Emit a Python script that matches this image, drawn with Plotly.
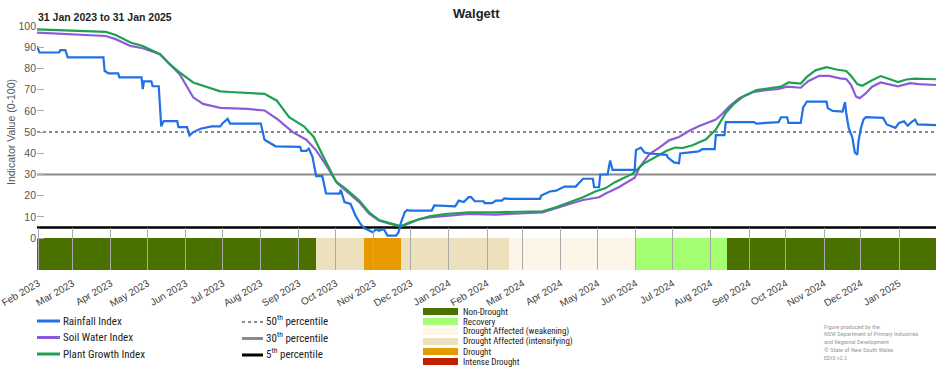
import plotly.graph_objects as go
import pandas as pd

# ---------------- data ----------------
rain_dates = ["2023-01-31","2023-02-02","2023-02-18","2023-02-19","2023-02-23","2023-02-25","2023-03-26","2023-03-27",
    "2023-03-30","2023-04-07","2023-04-08","2023-04-26","2023-04-27","2023-04-28","2023-05-04","2023-05-05","2023-05-10",
    "2023-05-12","2023-05-14","2023-05-25","2023-05-26","2023-06-02","2023-06-04","2023-06-07","2023-06-13","2023-06-22",
    "2023-06-29","2023-07-01","2023-07-05","2023-07-07","2023-08-01","2023-08-04","2023-08-13","2023-09-02","2023-09-03",
    "2023-09-07","2023-09-09","2023-09-12","2023-09-15","2023-09-20","2023-09-23","2023-10-04","2023-10-05","2023-10-08",
    "2023-10-13","2023-10-17","2023-10-21","2023-10-24","2023-10-31","2023-11-03","2023-11-05","2023-11-09","2023-11-12",
    "2023-11-19","2023-11-21","2023-11-23","2023-11-26","2023-11-28","2023-11-30","2023-12-18","2023-12-20","2024-01-06",
    "2024-01-09","2024-01-13","2024-01-17","2024-01-19","2024-01-22","2024-01-29","2024-01-30","2024-02-05","2024-02-08",
    "2024-02-13","2024-02-15","2024-02-19","2024-03-15","2024-03-16","2024-03-23","2024-03-28","2024-04-04","2024-04-13",
    "2024-04-19","2024-04-27","2024-04-28","2024-05-02","2024-05-03","2024-05-09","2024-05-11","2024-05-13","2024-05-31",
    "2024-06-01","2024-06-05","2024-06-08","2024-06-12","2024-06-26","2024-06-27","2024-07-02","2024-07-06","2024-07-07",
    "2024-07-22","2024-07-25","2024-08-04","2024-08-05","2024-08-12","2024-08-13","2024-09-05","2024-09-07","2024-09-25",
    "2024-09-27","2024-10-02","2024-10-03","2024-10-13","2024-10-15","2024-10-18","2024-11-03","2024-11-04","2024-11-08",
    "2024-11-16","2024-11-18","2024-11-19","2024-11-21","2024-11-24","2024-11-26","2024-11-28","2024-11-29","2024-12-01",
    "2024-12-03","2024-12-05","2024-12-19","2024-12-22","2024-12-25","2024-12-29","2024-12-31","2025-01-01","2025-01-05",
    "2025-01-08","2025-01-11","2025-01-14","2025-01-16","2025-01-31"]
rain_values = [90.5,87.5,87.5,88.6,88.6,85.2,85.2,78.9,
    77.7,77.7,75.8,75.8,70.3,73.9,73.9,71.6,71.6,
    52.7,55.2,55.2,52.3,52.3,48.4,50.0,51.6,52.7,
    52.7,54.2,56.3,54.0,54.0,46.4,43.3,43.0,41.1,
    41.1,42.2,38.3,29.2,29.2,21.1,21.0,22.8,17.0,
    16.1,10.6,6.7,4.8,2.8,4.3,3.5,4.3,1.2,
    1.2,2.8,7.5,12.2,13.3,13.0,13.0,15.4,15.0,
    17.7,17.0,19.3,19.3,17.4,17.4,16.5,16.5,17.7,
    17.7,18.8,18.5,18.5,20.1,22.0,22.4,24.3,24.3,
    28.0,28.0,24.0,24.0,30.0,30.0,36.6,32.2,32.2,
    41.5,42.7,40.4,39.9,39.3,38.0,35.7,35.3,39.9,
    40.9,42.0,42.0,48.6,48.6,54.7,54.7,54.0,54.7,
    57.0,57.0,54.3,54.3,61.6,64.4,64.4,61.3,60.0,
    59.7,64.1,59.0,52.0,47.4,40.4,39.3,45.8,52.0,
    55.9,57.0,56.7,53.6,52.8,52.0,53.6,54.3,55.1,
    53.0,54.7,55.9,53.6,53.3]

soil_dates = ["2023-01-31","2023-03-28","2023-04-05","2023-04-17","2023-04-27","2023-05-11","2023-05-19","2023-05-27",
    "2023-06-07","2023-06-15","2023-06-29","2023-07-21","2023-08-04","2023-08-14","2023-08-27","2023-09-07","2023-09-15",
    "2023-09-24","2023-10-02","2023-10-09","2023-10-20","2023-10-28","2023-11-05","2023-11-13","2023-11-19","2023-11-23",
    "2023-11-30","2023-12-08","2023-12-16","2024-01-17","2024-02-08","2024-03-17","2024-04-08","2024-04-19","2024-05-02",
    "2024-05-07","2024-05-18","2024-05-31","2024-06-04","2024-06-12","2024-06-20","2024-06-28","2024-07-06","2024-07-14",
    "2024-07-22","2024-07-31","2024-08-05","2024-08-10","2024-08-16","2024-08-24","2024-09-04","2024-09-15","2024-09-25",
    "2024-10-02","2024-10-13","2024-10-19","2024-10-28","2024-11-05","2024-11-14","2024-11-19","2024-11-23","2024-11-27",
    "2024-11-30","2024-12-05","2024-12-10","2024-12-17","2024-12-24","2024-12-31","2025-01-10","2025-01-17","2025-01-31"]
soil_values = [96.9,95.3,93.8,90.6,89.5,86.7,82.0,77.3,
    66.4,63.3,61.4,60.9,60.2,56.3,50.0,46.4,41.4,
    33.6,26.0,22.5,17.0,11.5,8.3,7.0,6.2,5.6,
    7.0,9.0,9.8,11.4,11.1,12.2,16.1,18.0,19.3,
    20.9,24.0,28.5,33.4,39.6,42.7,46.1,47.7,50.5,
    52.8,54.8,55.9,58.5,62.1,66.0,68.8,69.8,70.3,
    71.4,70.9,74.0,76.5,76.5,75.3,75.0,72.2,66.7,
    66.0,68.3,71.4,73.4,72.5,71.6,73.1,72.6,72.2]

plant_dates = ["2023-01-31","2023-02-22","2023-03-28","2023-04-05","2023-04-17","2023-04-27","2023-05-11","2023-05-19",
    "2023-05-27","2023-06-07","2023-06-15","2023-06-29","2023-07-07","2023-08-04","2023-08-14","2023-08-24","2023-09-05",
    "2023-09-13","2023-09-21","2023-09-27","2023-10-01","2023-10-09","2023-10-20","2023-10-28","2023-11-05","2023-11-13",
    "2023-11-19","2023-11-23","2023-11-30","2023-12-08","2023-12-16","2023-12-29","2024-01-17","2024-02-08","2024-02-24",
    "2024-03-17","2024-03-28","2024-04-08","2024-04-19","2024-04-29","2024-05-07","2024-05-15","2024-05-29","2024-06-07",
    "2024-06-18","2024-06-26","2024-07-03","2024-07-09","2024-07-17","2024-07-28","2024-08-05","2024-08-13","2024-08-19",
    "2024-08-27","2024-09-07","2024-09-20","2024-09-27","2024-10-03","2024-10-13","2024-10-18","2024-10-25","2024-11-03",
    "2024-11-11","2024-11-19","2024-11-23","2024-11-28","2024-12-02","2024-12-10","2024-12-17","2024-12-24","2024-12-31",
    "2025-01-07","2025-01-14","2025-01-31"]
plant_values = [98.4,98.0,97.2,95.8,92.2,90.6,86.7,82.0,
    78.1,73.4,71.9,69.2,68.9,68.0,64.8,57.0,52.7,
    47.7,38.3,31.0,26.8,23.2,17.7,12.2,8.6,7.2,
    6.2,5.6,7.5,9.0,10.3,11.4,12.2,12.2,12.5,
    12.7,14.6,17.0,19.3,22.0,23.5,26.4,30.3,35.0,
    38.8,41.2,42.7,42.5,43.8,46.6,51.2,59.0,62.9,
    66.7,69.8,70.9,71.4,73.4,72.9,76.0,79.1,80.6,
    79.5,78.8,76.4,72.6,71.8,74.4,76.4,75.0,73.6,
    74.8,75.2,74.9]

percentile_levels = [50, 30, 5]
percentile_names = ["50th percentile", "30th percentile", "5th percentile"]

drought_starts = ["2023-01-31", "2023-09-15", "2023-10-24", "2023-11-23", "2024-02-19", "2024-06-01", "2024-08-14"]
drought_ends = ["2023-09-15", "2023-10-24", "2023-11-23", "2024-02-19", "2024-06-01", "2024-08-14", "2025-01-31"]
drought_cats = ["Non-Drought", "Drought Affected (intensifying)", "Drought", "Drought Affected (intensifying)",
                "Drought Affected (weakening)", "Recovery", "Non-Drought"]

category_names = ["Non-Drought", "Recovery", "Drought Affected (weakening)",
                  "Drought Affected (intensifying)", "Drought", "Intense Drought"]
category_colors = ["#4a7000", "#a6ff73", "#fdf5e8", "#ede0bd", "#e69a00", "#bf2100"]

date_start, date_end = "2023-01-31", "2025-01-31"

# ---------------- styles ----------------
C_RAIN, C_SOIL, C_PLANT = "#2070e6", "#8c5cd8", "#1fa050"
FONT = "Liberation Sans, Arial, sans-serif"
NARROW = "Roboto Condensed, Liberation Sans, sans-serif"

L, R, T, B, W, H = 37, 16, 26, 100, 952, 370
PW, PH = W - L - R, H - T - B
def px(x):
    return (x - L) / PW
def py(y):
    return (H - B - y) / PH

fig = go.Figure()

# drought bar (drawn from category spans)
cmap = dict(zip(category_names, category_colors))
starts = pd.to_datetime(drought_starts)
ends = pd.to_datetime(drought_ends)
widths = [(e - s).total_seconds() * 1000 for s, e in zip(starts, ends)]
fig.add_trace(go.Bar(x=drought_starts, y=[15] * len(drought_starts), base=-15, width=widths, offset=0,
                     marker=dict(color=[cmap[c] for c in drought_cats], line=dict(width=0)),
                     showlegend=False, hoverinfo="skip"))

# percentile lines
pct_styles = [dict(color="#8a8a8a", width=2, dash="dot"), dict(color="#8a8a8a", width=2), dict(color="#000000", width=2.5)]
for lvl, nm, st in zip(percentile_levels, percentile_names, pct_styles):
    fig.add_trace(go.Scatter(x=[date_start, date_end], y=[lvl, lvl], mode="lines", line=st, name=nm,
                             showlegend=False, hoverinfo="skip"))

fig.add_trace(go.Scatter(x=soil_dates, y=soil_values, mode="lines", name="Soil Water Index",
                         line=dict(color=C_SOIL, width=2.2), showlegend=False))
fig.add_trace(go.Scatter(x=plant_dates, y=plant_values, mode="lines", name="Plant Growth Index",
                         line=dict(color=C_PLANT, width=2.2), showlegend=False))
fig.add_trace(go.Scatter(x=rain_dates, y=rain_values, mode="lines", name="Rainfall Index",
                         line=dict(color=C_RAIN, width=2.2), showlegend=False))

shapes = []
annotations = []

# titles
annotations.append(dict(text="<b>Walgett</b>", x=px(476), y=py(14), xref="paper", yref="paper",
                        showarrow=False, font=dict(size=13, color="#222", family=FONT), xanchor="center", yanchor="middle"))
annotations.append(dict(text="<b>31 Jan 2023 to 31 Jan 2025</b>", x=px(36), y=py(17), xref="paper", yref="paper",
                        showarrow=False, font=dict(size=10.5, color="#222", family=FONT), xanchor="left", yanchor="middle"))
annotations.append(dict(text="Indicator Value (0-100)", x=px(11), y=py(132), xref="paper", yref="paper", textangle=-90,
                        showarrow=False, font=dict(size=10.5, color="#555", family=FONT), xanchor="center", yanchor="middle"))

# index legend
idx_names = ["Rainfall Index", "Soil Water Index", "Plant Growth Index"]
idx_cols = [C_RAIN, C_SOIL, C_PLANT]
for i, (nm, c) in enumerate(zip(idx_names, idx_cols)):
    yy = 321 + i * 16.5
    shapes.append(dict(type="line", xref="paper", yref="paper", x0=px(37), x1=px(60), y0=py(yy), y1=py(yy),
                       line=dict(color=c, width=3)))
    annotations.append(dict(text=nm, x=px(61), y=py(yy), xref="paper", yref="paper", showarrow=False,
                            xanchor="left", yanchor="middle", font=dict(size=11, color="#222", family=NARROW)))

# percentile legend
pct_labels = ["50<sup>th</sup> percentile", "30<sup>th</sup> percentile", "5<sup>th</sup> percentile"]
for i, (lab, st) in enumerate(zip(pct_labels, pct_styles)):
    yy = 322 + i * 16.5
    shapes.append(dict(type="line", xref="paper", yref="paper", x0=px(242), x1=px(263), y0=py(yy), y1=py(yy),
                       line=dict(color=st["color"], width=3 if "dash" not in st else 2, dash=st.get("dash", "solid"))))
    annotations.append(dict(text=lab, x=px(264), y=py(yy - 1.5), xref="paper", yref="paper", showarrow=False,
                            xanchor="left", yanchor="middle", font=dict(size=11, color="#222", family=NARROW)))

# drought category legend
for i, (nm, c) in enumerate(zip(category_names, category_colors)):
    yc = 311.5 + i * 10.0
    shapes.append(dict(type="rect", xref="paper", yref="paper", x0=px(423), x1=px(458), y0=py(yc - 3.4), y1=py(yc + 3.4),
                       fillcolor=c, line=dict(width=0)))
    annotations.append(dict(text=nm, x=px(461), y=py(yc), xref="paper", yref="paper", showarrow=False,
                            xanchor="left", yanchor="middle", font=dict(size=9.0, color="#222", family=NARROW)))

# credits
credit_lines = ["Figure produced by the", "NSW Department of Primary Industries", "and Regional Development",
                "\u00a9 State of New South Wales", "EDIS v2.2"]
for i, t in enumerate(credit_lines):
    annotations.append(dict(text=t, x=px(822), y=py(326.5 + i * 7.8), xref="paper", yref="paper", showarrow=False,
                            xanchor="left", yanchor="middle", font=dict(size=6.2, color="#9a9a9a", family=NARROW)))

fig.update_layout(
    width=W, height=H,
    margin=dict(l=L, r=R, t=T, b=B, autoexpand=False),
    paper_bgcolor="white", plot_bgcolor="white",
    shapes=shapes, annotations=annotations,
    showlegend=False, bargap=0,
    font=dict(family=FONT, color="#444"),
)
fig.update_xaxes(type="date", range=[date_start, date_end], tick0="2023-02-01", dtick="M1", tickformat="%b %Y",
                 tickangle=-30, ticks="inside", ticklen=42, tickcolor="#aaaaaa", tickwidth=1,
                 showgrid=False, showline=False, zeroline=False, automargin=False, ticklabeloverflow="allow",
                 ticklabelstandoff=5, tickfont=dict(size=10, color="#444", family=FONT))
fig.update_yaxes(range=[-15, 100], tickvals=list(range(0, 101, 10)), ticks="inside", ticklen=7,
                 tickcolor="#aaaaaa", showgrid=False, showline=False, zeroline=True, zerolinecolor="#c8c8c8",
                 zerolinewidth=1, automargin=False, tickfont=dict(size=10.5, color="#555", family=FONT))

fig.write_html("out.html", config={"displayModeBar": False},
               post_script="document.body.style.margin='0';document.body.style.padding='0';")
